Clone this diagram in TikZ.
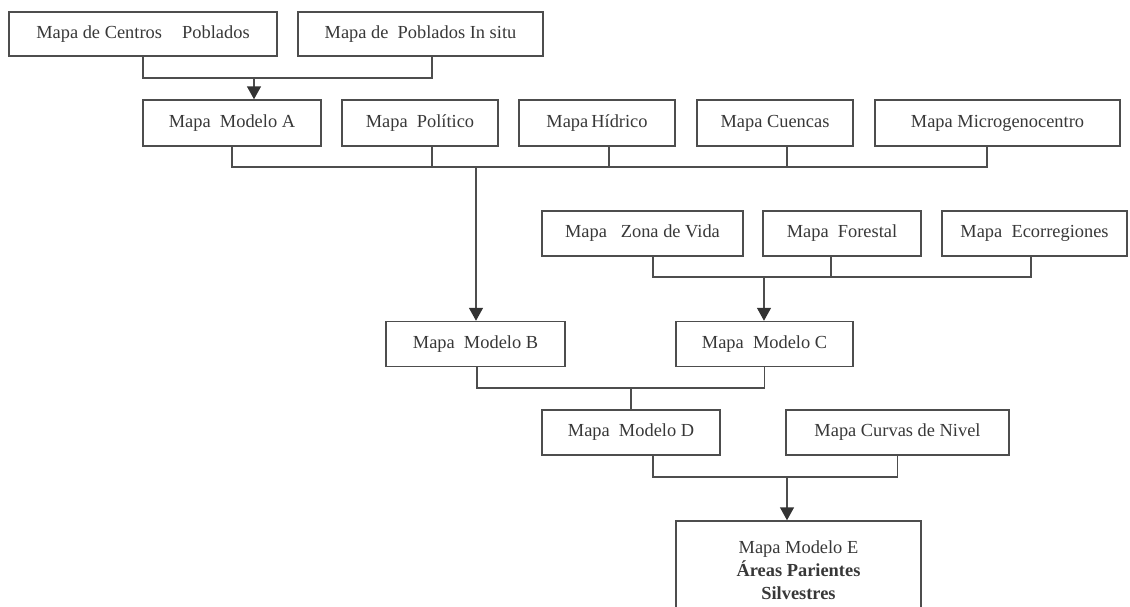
\documentclass[tikz,border=0pt]{standalone}
\usepackage{fontspec}
\setmainfont{Liberation Serif}
\usetikzlibrary{arrows.meta}
\definecolor{linec}{HTML}{4D4D4D}
\definecolor{textc}{HTML}{383838}
\definecolor{headc}{HTML}{333333}
\begin{document}
\begin{tikzpicture}[x=1pt,y=-1pt,
  mapbox/.style={draw=linec, line width=1.5pt, inner sep=0pt, text=textc,
    font=\fontsize{18.4}{23}\selectfont, minimum height=45pt},
  link/.style={draw=linec, line width=1.5pt},
  flow/.style={link, -{Triangle[width=14pt,length=13pt,color=headc]}}]
\useasboundingbox (0,0) rectangle (1130,606);

% first level sources
\node[mapbox, minimum width=268pt, minimum height=44pt] (cp) at (143,34) {Mapa de Centros\hspace{1.1em}Poblados};
\node[mapbox, minimum width=245pt, minimum height=44pt] (pi) at (420.5,34) {Mapa de\hspace{0.5em}Poblados In situ};

% second level
\node[mapbox, minimum width=178pt, minimum height=46pt] (ma) at (232,123) {Mapa\hspace{0.5em}Modelo A};
\node[mapbox, minimum width=156pt, minimum height=46pt] (po) at (420,123) {Mapa\hspace{0.5em}Político};
\node[mapbox, minimum width=156pt, minimum height=46pt] (hi) at (597,123) {Mapa\,Hídrico};
\node[mapbox, minimum width=156pt, minimum height=46pt] (cu) at (775,123) {Mapa Cuencas};
\node[mapbox, minimum width=245pt, minimum height=46pt] (mi) at (997.5,123) {Mapa Microgenocentro};

% third level
\node[mapbox, minimum width=201pt] (zv) at (642.5,233.5) {Mapa\hspace{0.75em}Zona de Vida};
\node[mapbox, minimum width=158pt] (fo) at (842,233.5) {Mapa\hspace{0.5em}Forestal};
\node[mapbox, minimum width=185pt] (ec) at (1034.5,233.5) {Mapa\hspace{0.5em}Ecorregiones};

% intermediate models
\node[mapbox, minimum width=179pt] (mb) at (475.5,344) {Mapa\hspace{0.5em}Modelo B};
\node[mapbox, minimum width=177pt] (mc) at (764.5,344) {Mapa\hspace{0.5em}Modelo C};
\node[mapbox, minimum width=178pt] (md) at (631,432.5) {Mapa\hspace{0.5em}Modelo D};
\node[mapbox, minimum width=223pt] (cn) at (897.5,432.5) {Mapa Curvas de Nivel};

% final model
\node[mapbox, minimum width=245pt, minimum height=98pt, align=center] (me) at (798.5,570)
  {Mapa Modelo E\\\textbf{Áreas Parientes}\\\textbf{Silvestres}};

% junction points of the connectors
\coordinate (j1) at (254,78);
\coordinate (j2) at (476,167);
\coordinate (j3) at (764,277);
\coordinate (j4) at (631,388);
\coordinate (j5) at (787,477);

% sources -> model A
\draw[link] (cp.south) |- (j1);
\draw[link] ([xshift=11.5pt]pi.south) |- (j1);
\draw[flow] (j1) -- (ma.north -| j1);

% second level -> model B
\draw[link] (ma.south) |- (j2);
\draw[link] ([xshift=12pt]po.south) |- (j2);
\draw[link] ([xshift=12pt]hi.south) |- (j2);
\draw[link] ([xshift=12pt]cu.south) |- (j2);
\draw[link] ([xshift=-10.5pt]mi.south) |- (j2);
\draw[flow] (j2) -- (mb.north -| j2);

% third level -> model C
\draw[link] ([xshift=10.5pt]zv.south) |- (j3);
\draw[link] ([xshift=-11pt]fo.south) |- (j3);
\draw[link] ([xshift=-3.5pt]ec.south) |- (j3);
\draw[flow] (j3) -- (mc.north -| j3);

% models B and C -> model D
\draw[link] ([xshift=1.5pt]mb.south) |- (j4);
\draw[link] (mc.south) |- (j4);
\draw[link] (j4) -- (md.north);

% model D and contour lines -> model E
\draw[link] ([xshift=22pt]md.south) |- (j5);
\draw[link] (cn.south) |- (j5);
\draw[flow] (j5) -- (me.north -| j5);
\end{tikzpicture}
\end{document}
